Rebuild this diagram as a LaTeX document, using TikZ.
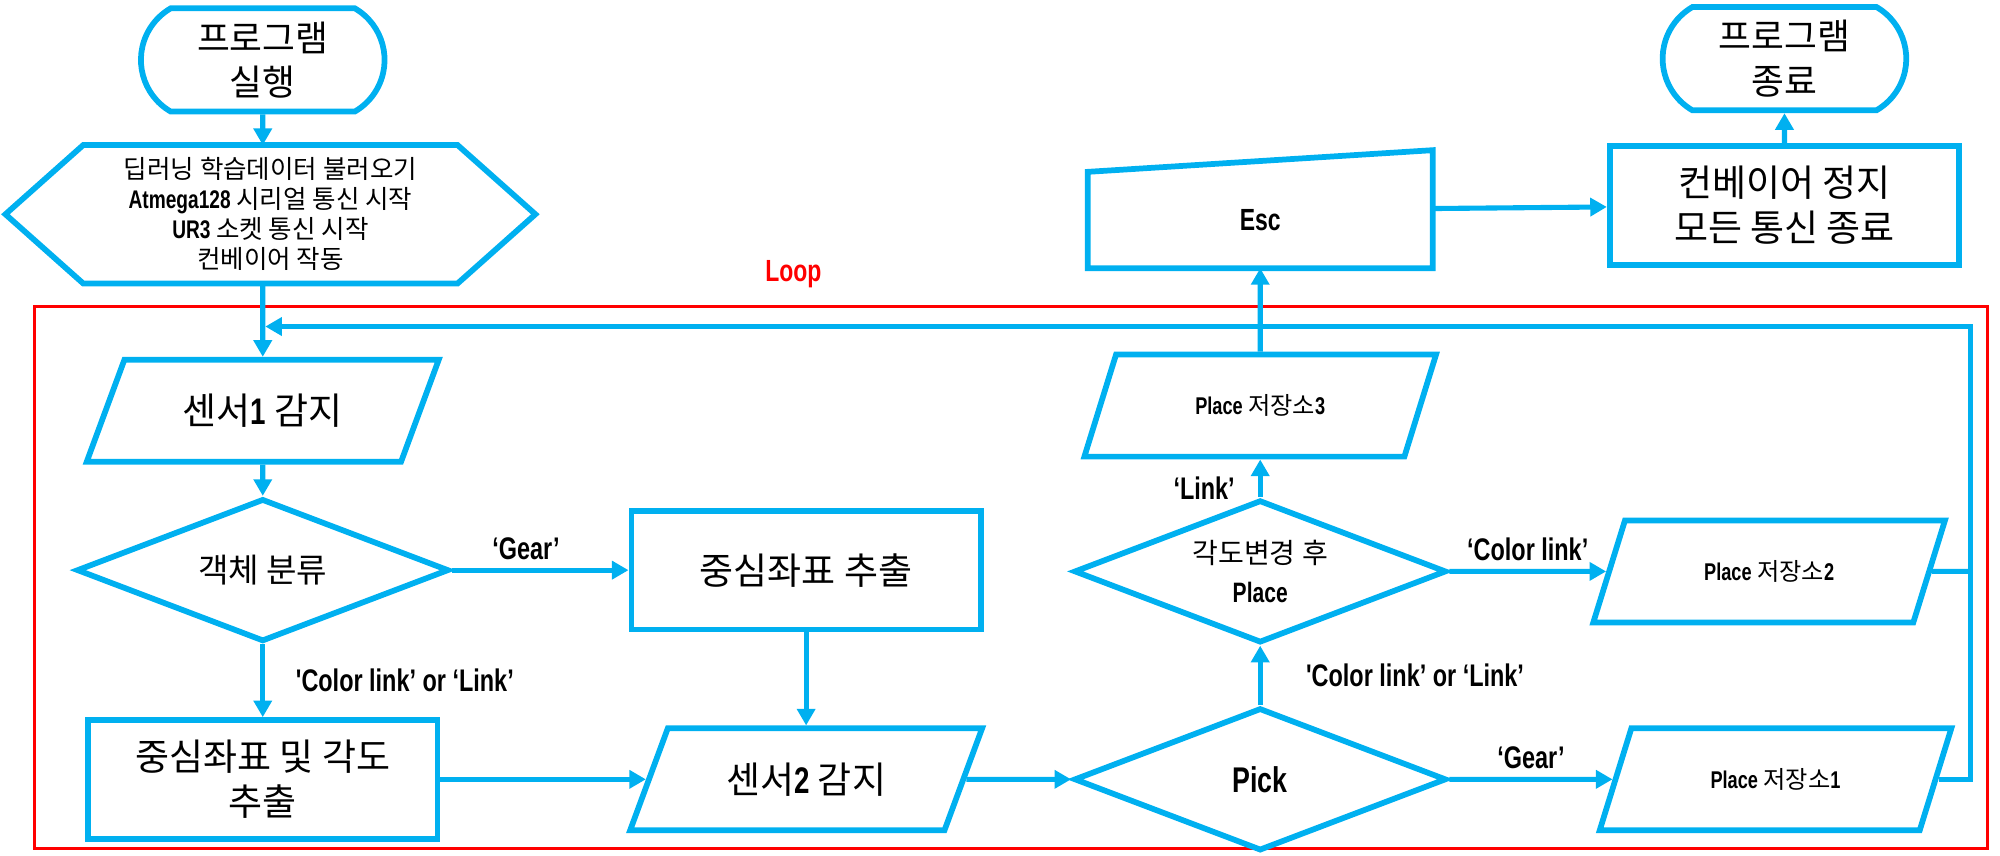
\documentclass[tikz,border=0pt]{standalone}
\usepackage{fontspec}
\setmainfont{Noto Sans CJK KR}
\newfontfamily\enfont{Liberation Sans}[FakeStretch=0.75]
\newcommand\en[1]{{\enfont\bfseries #1}}
\newcommand\fs[2]{\fontsize{#1}{#2}\selectfont}
\usetikzlibrary{positioning,shapes.geometric,shapes.misc,arrows.meta}
\definecolor{flowblue}{HTML}{00B0F0}

\begin{document}
\begin{tikzpicture}[x=1pt, y=1pt, on grid,
    >={Triangle[length=13pt,width=14pt]},
    base/.style={draw=flowblue, line width=4.5pt, inner sep=0pt, align=center, text=black},
    terminal/.style={base, rounded rectangle, rounded rectangle arc length=120, minimum width=191pt, minimum height=81pt, font=\fs{28}{35}},
    process/.style={base, rectangle, minimum width=274pt, minimum height=93pt, font=\fs{29}{35}},
    decision/.style={base, diamond, aspect=2.55, minimum width=292pt, minimum height=112pt},
    io/.style={base, trapezium, trapezium left angle=57, trapezium right angle=123, trapezium stretches=true, minimum width=276pt, minimum height=80pt},
    hidden/.style={base, draw=none, rectangle},
    flow/.style={draw=flowblue, line width=4pt, ->},
    lbl/.style={font=\enfont\bfseries\fs{24.5}{27}, inner sep=0pt},
    loopbox/.style={draw=red, line width=2.2pt},
]
    \useasboundingbox (0,0) rectangle (1568,671);

    \draw[loopbox] (27,6) rectangle (1558,431);
    \node[text=red, font=\enfont\bfseries\fs{24}{28}] (looplabel) at (622,456) {Loop};

    \node[terminal] (start) at (206,624) {프로그램\\실행};
    \node[hidden, minimum width=411pt, minimum height=104pt, font=\fs{20}{23.5}, below right=121pt and 6pt of start] (init) {딥러닝 학습데이터 불러오기\\\en{Atmega128} 시리얼 통신 시작\\\en{UR3} 소켓 통신 시작\\컨베이어 작동};
    \draw[base] (init.west) -- ([xshift=61pt]init.north west) -- ([xshift=-61pt]init.north east) -- (init.east) -- ([xshift=-61pt]init.south east) -- ([xshift=61pt]init.south west) -- cycle;
    \node[io, below left=154pt and 6pt of init, font=\fs{29}{35}] (sensor1) {센서\en{1} 감지};
    \node[decision, below=125pt of sensor1, font=\fs{26}{30}] (classify) {객체 분류};
    \node[process, right=426pt of classify] (centroid) {중심좌표 추출};
    \node[process, below=164pt of classify] (pose) {중심좌표 및 각도\\추출};
    \node[io, right=426pt of pose, font=\fs{29}{35}] (sensor2) {센서\en{2} 감지};
    \node[decision, right=356pt of sensor2, font=\enfont\bfseries\fs{28}{32}] (pick) {Pick};
    \node[decision, above=163pt of pick, font=\fs{22}{30}] (rotate) {각도변경 후\\\en{Place}};
    \node[io, above=130pt of rotate, font=\fs{19}{22}] (place3) {\en{Place} 저장소\en{3}};
    \node[io, right=399pt of rotate, font=\fs{19}{22}] (place2) {\en{Place} 저장소\en{2}};
    \node[io, right=404pt of pick, font=\fs{19}{22}] (place1) {\en{Place} 저장소\en{1}};
    \node[hidden, minimum width=266pt, minimum height=71pt, above=145.5pt of place3, font=\enfont\bfseries\fs{24}{26}] (esc) {Esc};
    \draw[base] (esc.south west) -- (esc.north west) -- ([yshift=17pt]esc.north east) -- (esc.south east) -- cycle;
    \node[process, above right=11.5pt and 411pt of esc] (halt) {컨베이어 정지\\모든 통신 종료};
    \node[terminal, above=115pt of halt] (stop) {프로그램\\종료};
    \coordinate (rail) at (1545,415);

    \draw[flow] (start) -- (start |- init.north);
    \draw[flow] (sensor1 |- init.south) -- (sensor1);
    \draw[flow] (sensor1) -- (classify);
    \draw[flow] (classify) -- node[lbl, pos=0.42, above=6pt] {‘Gear’} (centroid);
    \draw[flow] (classify) -- node[lbl, right=24pt] {'Color link’ or ‘Link’} (pose);
    \draw[flow] (centroid) -- (sensor2);
    \draw[flow] (pose) -- (sensor2);
    \draw[flow] (sensor2) -- (pick);
    \draw[flow] (pick) -- node[lbl, right=34pt] {'Color link’ or ‘Link’} (rotate);
    \draw[flow] (pick) -- node[lbl, above=6pt] {‘Gear’} (place1);
    \draw[flow] (rotate) -- node[lbl, above=6pt] {‘Color link’} (place2);
    \draw[flow] (rotate) -- node[lbl, pos=0.25, left=18pt] {‘Link’} (place3);
    \draw[flow] (place3) -- (esc);
    \draw[flow] ([yshift=9pt]esc.east) -- (halt);
    \draw[flow] (halt) -- (stop);
    \draw[flow, -] (place2) -- (place2 -| rail);
    \draw[flow, shorten >=2pt] (place1) -| (rail) -- (rail -| sensor1);
\end{tikzpicture}
\end{document}
